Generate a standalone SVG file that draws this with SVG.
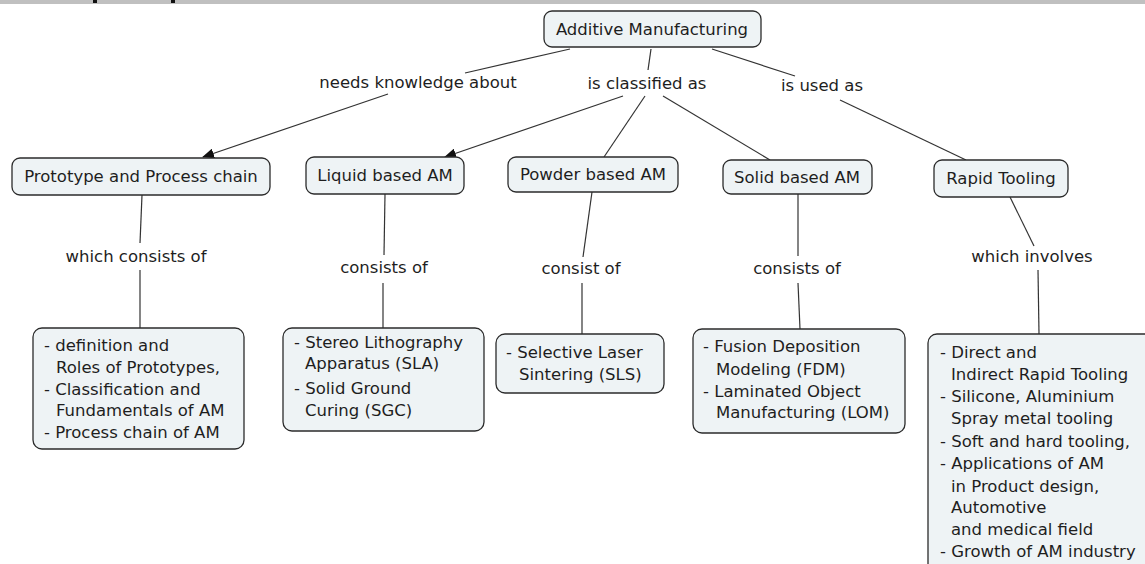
<svg xmlns="http://www.w3.org/2000/svg" width="1145" height="564" viewBox="0 0 1145 564">
<style>
.node{fill:#eef3f5;stroke:#2b2b2b;stroke-width:1.3}
.t{font-family:"DejaVu Sans",Verdana,sans-serif;font-size:16.5px;fill:#1e1e1e}
.c{text-anchor:middle}
.ln{stroke:#333;stroke-width:1.2;fill:none}
</style>
<defs>
<marker id="ah" markerWidth="12" markerHeight="10" refX="11" refY="5" orient="auto" markerUnits="userSpaceOnUse">
<path d="M0,0 L12,5 L0,10 Z" fill="#111"/>
</marker>
</defs>
<rect x="0" y="0" width="1145" height="4" fill="#c0c0c0"/>
<rect x="93" y="0" width="4" height="3" fill="#111"/>
<rect x="171" y="0" width="4" height="3" fill="#111"/>
<g id="connectors">
<line class="ln" x1="570" y1="49" x2="465" y2="73"/>
<line class="ln" x1="388" y1="94" x2="203" y2="157" marker-end="url(#ah)"/>
<line class="ln" x1="651" y1="49" x2="648" y2="70"/>
<line class="ln" x1="623" y1="96" x2="445" y2="157" marker-end="url(#ah)"/>
<line class="ln" x1="645" y1="96" x2="604" y2="157"/>
<line class="ln" x1="663" y1="96" x2="770" y2="160"/>
<line class="ln" x1="712" y1="49" x2="795" y2="76"/>
<line class="ln" x1="840" y1="100" x2="966" y2="160"/>
<line class="ln" x1="142" y1="195" x2="140" y2="243"/>
<line class="ln" x1="140" y1="270" x2="140" y2="328"/>
<line class="ln" x1="385" y1="194" x2="384" y2="255"/>
<line class="ln" x1="383" y1="283" x2="383" y2="328"/>
<line class="ln" x1="592" y1="192" x2="583" y2="257"/>
<line class="ln" x1="582" y1="283" x2="582" y2="334"/>
<line class="ln" x1="798" y1="194" x2="798" y2="256"/>
<line class="ln" x1="798" y1="283" x2="800" y2="329"/>
<line class="ln" x1="1010" y1="197" x2="1034" y2="246"/>
<line class="ln" x1="1038" y1="270" x2="1039" y2="334"/>
<text class="t c" x="418" y="88">needs knowledge about</text>
<text class="t c" x="647" y="89">is classified as</text>
<text class="t c" x="822" y="91">is used as</text>
<text class="t c" x="136" y="262">which consists of</text>
<text class="t c" x="384" y="273">consists of</text>
<text class="t c" x="581" y="274">consist of</text>
<text class="t c" x="797" y="274">consists of</text>
<text class="t c" x="1032" y="262">which involves</text>
</g>
<g id="root">
<rect class="node" x="544" y="11" width="217" height="36" rx="8"/>
<text class="t c" x="652" y="35">Additive Manufacturing</text>
</g>
<g id="prototype">
<rect class="node" x="12" y="158" width="258" height="37" rx="8"/>
<text class="t c" x="141" y="182">Prototype and Process chain</text>
</g>
<g id="liquid">
<rect class="node" x="306" y="157" width="158" height="37" rx="8"/>
<text class="t c" x="385" y="181">Liquid based AM</text>
</g>
<g id="powder">
<rect class="node" x="508" y="157" width="170" height="35" rx="8"/>
<text class="t c" x="593" y="180">Powder based AM</text>
</g>
<g id="solid">
<rect class="node" x="723" y="160" width="149" height="34" rx="8"/>
<text class="t c" x="797" y="183">Solid based AM</text>
</g>
<g id="rapid">
<rect class="node" x="934" y="160" width="134" height="37" rx="8"/>
<text class="t c" x="1001" y="184">Rapid Tooling</text>
</g>
<g id="proto-details">
<rect class="node" x="33" y="328" width="211" height="121" rx="9"/>
<text class="t" x="44" y="351">- definition and</text>
<text class="t" x="56" y="373">Roles of Prototypes,</text>
<text class="t" x="44" y="395">- Classification and</text>
<text class="t" x="56" y="416">Fundamentals of AM</text>
<text class="t" x="44" y="438">- Process chain of AM</text>
</g>
<g id="liquid-details">
<rect class="node" x="283" y="328" width="201" height="103" rx="9"/>
<text class="t" x="294" y="348">- Stereo Lithography</text>
<text class="t" x="305" y="369">Apparatus (SLA)</text>
<text class="t" x="294" y="394">- Solid Ground</text>
<text class="t" x="305" y="416">Curing (SGC)</text>
</g>
<g id="powder-details">
<rect class="node" x="496" y="334" width="168" height="59" rx="9"/>
<text class="t" x="506" y="358">- Selective Laser</text>
<text class="t" x="519" y="380">Sintering (SLS)</text>
</g>
<g id="solid-details">
<rect class="node" x="693" y="329" width="212" height="104" rx="9"/>
<text class="t" x="703" y="352">- Fusion Deposition</text>
<text class="t" x="716" y="375">Modeling (FDM)</text>
<text class="t" x="703" y="397">- Laminated Object</text>
<text class="t" x="716" y="418">Manufacturing (LOM)</text>
</g>
<g id="rapid-details">
<rect class="node" x="928" y="334" width="240" height="260" rx="9"/>
<text class="t" x="940" y="358">- Direct and</text>
<text class="t" x="951" y="380">Indirect Rapid Tooling</text>
<text class="t" x="940" y="402">- Silicone, Aluminium</text>
<text class="t" x="951" y="424">Spray metal tooling</text>
<text class="t" x="940" y="447">- Soft and hard tooling,</text>
<text class="t" x="940" y="469">- Applications of AM</text>
<text class="t" x="951" y="492">in Product design,</text>
<text class="t" x="951" y="513">Automotive</text>
<text class="t" x="951" y="535">and medical field</text>
<text class="t" x="940" y="557">- Growth of AM industry</text>
</g>
</svg>
